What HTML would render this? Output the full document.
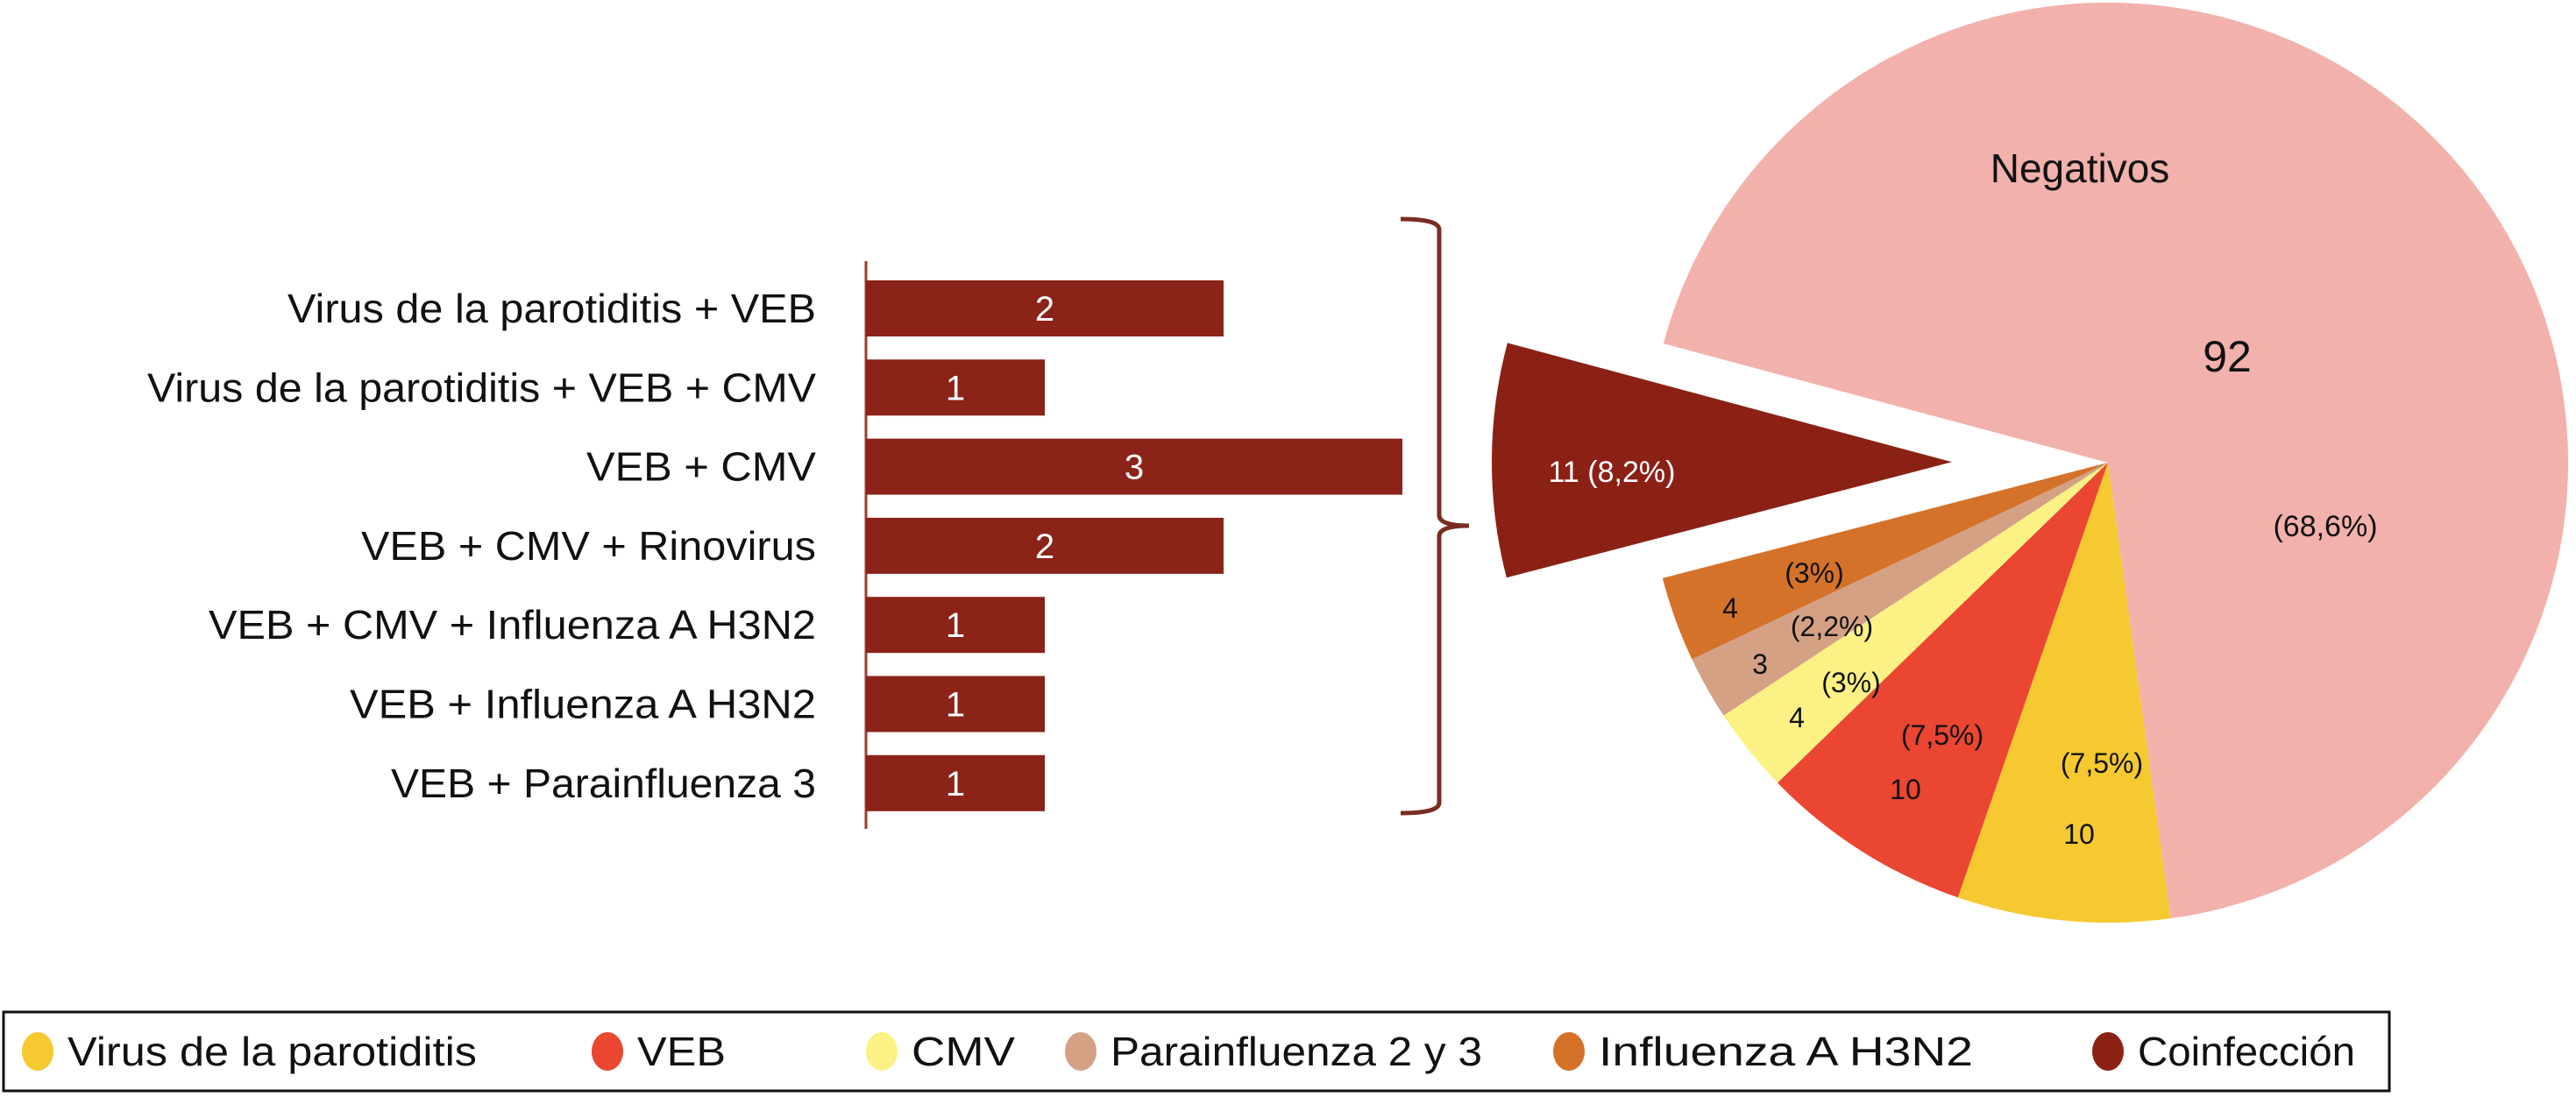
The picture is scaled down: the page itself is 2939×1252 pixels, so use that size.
<!DOCTYPE html>
<html><head><meta charset="utf-8"><style>
html,body{margin:0;padding:0;background:#fff;}
svg{display:block;font-family:"Liberation Sans",Arial,sans-serif;}
</style></head><body>
<svg id="chart" width="2939" height="1252" viewBox="0 0 2939 1252" xmlns="http://www.w3.org/2000/svg">
<g id="bars"></g>
<path d="M1598 250 Q1642 250 1642 262 L1642 588 Q1642 600 1676 600 Q1642 600 1642 612 L1642 916 Q1642 928 1598 928" fill="none" stroke="#7a2c22" stroke-width="5"/>
<g id="pie"></g>
<g id="legend">
<rect x="4" y="1155" width="2722" height="90" fill="#fff" stroke="#111" stroke-width="3"/>
</g>
</svg>
<script>
const barCategories = ["Virus de la parotiditis + VEB","Virus de la parotiditis + VEB + CMV","VEB + CMV","VEB + CMV + Rinovirus","VEB + CMV + Influenza A H3N2","VEB + Influenza A H3N2","VEB + Parainfluenza 3"];
const barValues = [2,1,3,2,1,1,1];
const barLabelWidths = [603,763,262,519,693,532,485];

const pieCategories = ["Negativos","Virus de la parotiditis","VEB","CMV","Parainfluenza 2 y 3","Influenza A H3N2","Coinfección"];
const pieValues = [92,10,10,4,3,4,11];
const piePercents = ["68,6%","7,5%","7,5%","3%","2,2%","3%","8,2%"];
const pieColors = ["#f2b1ab","#f6c930","#ea4631","#fbf184","#d4a185","#d4722a","#8b2115"];

const legendLabels = ["Virus de la parotiditis","VEB","CMV","Parainfluenza 2 y 3","Influenza A H3N2","Coinfección"];
const legendColors = ["#f6c930","#ea4631","#fbf184","#d4a185","#d4722a","#8b2115"];

const NS = "http://www.w3.org/2000/svg";
function mk(tag, attrs, parent){const e=document.createElementNS(NS,tag);for(const k in attrs)e.setAttribute(k,attrs[k]);parent.appendChild(e);return e;}

// Bars
const bars = document.getElementById('bars');
const axisX = 988, unit = 204, rowTop = 352, rowStep = 90.3, barH = 64;
const xScale = v => axisX + v*unit;
const yScale = i => rowTop + i*rowStep;
const axis = mk('line',{x1:axisX,y1:298,x2:axisX,y2:946,stroke:'#a33a2e','stroke-width':3},bars);


barCategories.forEach((c,i)=>{
  const cy = yScale(i);
  const r = mk('rect',{x:axisX,y:cy-barH/2,width:xScale(barValues[i])-axisX,height:barH,fill:'#8b2318'},bars);
  
  
  const v = mk('text',{x:(axisX+xScale(barValues[i]))/2,y:cy+14,'font-size':40,fill:'#fff','text-anchor':'middle'},bars);
  
  
  v.textContent = barValues[i];
  const t = mk('text',{x:931,y:cy+16,'font-size':46,fill:'#111','text-anchor':'end',textLength:barLabelWidths[i],lengthAdjust:'spacingAndGlyphs'},bars);
  
  
  t.textContent = c;
});

// Pie
const pie = document.getElementById('pie');
const cx = 2405, cy0 = 528, R = 525, startDeg = 195, explode = 178;
const total = pieValues.reduce((a,b)=>a+b,0);
let ang = startDeg;
const rad = d => d*Math.PI/180;
pieValues.forEach((v,i)=>{
  const sweep = v/total*360;
  const a0 = ang, a1 = ang+sweep; ang = a1;
  let ox=0, oy=0;
  if(i===pieValues.length-1){const m=rad((a0+a1)/2); ox=explode*Math.cos(m); oy=explode*Math.sin(m);}
  const px=cx+ox, py=cy0+oy;
  const x0=px+R*Math.cos(rad(a0)), y0=py+R*Math.sin(rad(a0));
  const x1=px+R*Math.cos(rad(a1)), y1=py+R*Math.sin(rad(a1));
  const p = mk('path',{d:`M${px} ${py} L${x0} ${y0} A${R} ${R} 0 ${sweep>180?1:0} 1 ${x1} ${y1} Z`,fill:pieColors[i]},pie);
  
  
});
function lbl(text,x,y,size,color,name){
  const t = mk('text',{x:x,y:y,'font-size':size,fill:color,'text-anchor':'middle'},pie);
  
  
  t.textContent = text;
}
lbl(pieCategories[0],2373,208,46,'#111','pie-title-negativos');
lbl(String(pieValues[0]),2541,424,50,'#111','pie-count-negativos');
lbl('('+piePercents[0]+')',2653,612,34,'#111','pie-percent-negativos');
lbl(pieValues[6]+' ('+piePercents[6]+')',1839,550,34,'#fff','pie-label-coinfeccion');
const smallPos = [[2398,882,2372,963],[2216,850,2174,912],[2112,790,2050,830],[2090,726,2008,769],[2070,665,1974,705]];
[1,2,3,4,5].forEach((k,j)=>{
  const s = smallPos[j];
  lbl('('+piePercents[k]+')',s[0],s[1],32,'#111','pie-percent-'+(k+1));
  lbl(String(pieValues[k]),s[2],s[3],32,'#111','pie-count-'+(k+1));
});

// Legend
const legend = document.getElementById('legend');
const legX = [43,693,1006,1233,1790,2405];
const legW = [467,101,118,424,427,248];
legendLabels.forEach((l,i)=>{
  const c = mk('ellipse',{cx:legX[i],cy:1200,rx:18,ry:22,fill:legendColors[i]},legend);
  
  
  const t = mk('text',{x:legX[i]+34,y:1216,'font-size':46,fill:'#111',textLength:legW[i],lengthAdjust:'spacingAndGlyphs'},legend);
  
  
  t.textContent = l;
});
</script>
</body></html>
